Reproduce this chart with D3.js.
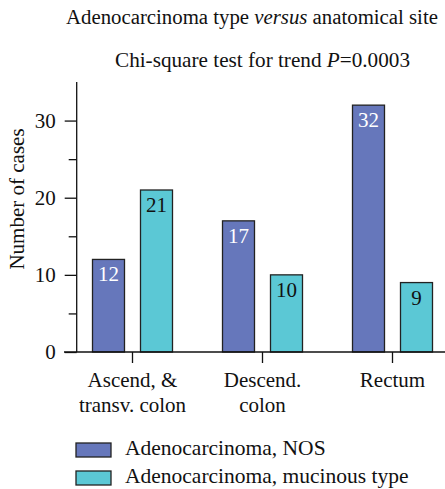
<!DOCTYPE html>
<html><head><meta charset="utf-8">
<script src="https://cdn.jsdelivr.net/npm/d3@7/dist/d3.min.js"></script>
<style>
html,body{margin:0;padding:0;background:#fff;}
svg{display:block;}
text{font-family:"Liberation Serif","Times New Roman",serif;fill:#111;}
</style></head>
<body>
<svg id="chart" width="445" height="489"></svg>
<script>
const categories = [["Ascend, &", "transv. colon"], ["Descend.", "colon"], ["Rectum"]];
const categoryKeys = ["Ascend, & transv. colon", "Descend. colon", "Rectum"];
const seriesNames = ["Adenocarcinoma, NOS", "Adenocarcinoma, mucinous type"];
const nosValues = [12, 17, 32];
const mucinousValues = [21, 10, 9];
const yTicks = [0, 10, 20, 30];
const yMinorTicks = [5, 15, 25];
const colors = ["#6677bb", "#5bc8d5"];
const labelColors = ["#ffffff", "#111111"];

const svg = d3.select("#chart");
const y = d3.scaleLinear().domain([0, 35]).range([352, 82]);
const x0 = d3.scaleBand().domain(categoryKeys).range([67.5, 457.5]).padding(0);
const x1 = d3.scaleBand().domain(seriesNames).range([25, 105]).paddingInner(1/3).paddingOuter(0);

// Titles
const t1 = svg.append("text").attr("x", 66).attr("y", 24).attr("font-size", 20.8);
t1.append("tspan").text("Adenocarcinoma type ");
t1.append("tspan").attr("font-style", "italic").text("versus");
t1.append("tspan").text(" anatomical site");

const t2 = svg.append("text").attr("x", 262.5).attr("y", 67).attr("font-size", 21.2).attr("text-anchor", "middle");
t2.append("tspan").text("Chi-square test for trend ");
t2.append("tspan").attr("font-style", "italic").text("P");
t2.append("tspan").text("=0.0003");

// Bars
const data = categoryKeys.map((c, i) => ({cat: c, vals: [nosValues[i], mucinousValues[i]]}));
const groups = svg.append("g").selectAll("g").data(data).join("g")
  .attr("transform", d => `translate(${x0(d.cat)},0)`);
groups.selectAll("rect").data(d => d.vals.map((v, j) => ({v, s: seriesNames[j], j})))
  .join("rect")
  .attr("x", d => x1(d.s)).attr("width", x1.bandwidth())
  .attr("y", d => y(d.v)).attr("height", d => y(0) - y(d.v))
  .attr("fill", d => colors[d.j]).attr("stroke", "#222").attr("stroke-width", 1.3);
groups.selectAll("text").data(d => d.vals.map((v, j) => ({v, s: seriesNames[j], j})))
  .join("text")
  .attr("x", d => x1(d.s) + x1.bandwidth() / 2).attr("y", d => y(d.v) + 22)
  .attr("text-anchor", "middle").attr("font-size", 21)
  .style("fill", d => labelColors[d.j]).text(d => d.v);

// Y axis
const yAxis = svg.append("g").attr("transform", "translate(76.7,0)")
  .call(d3.axisLeft(y).tickValues(yTicks).tickSize(12).tickPadding(9).tickFormat(d3.format("d")));
yAxis.select(".domain").attr("d", `M0,${y(35)}V${y(0)}`);
svg.append("g").attr("transform", "translate(76.7,0)")
  .call(d3.axisLeft(y).tickValues(yMinorTicks).tickSize(8).tickFormat(""))
  .select(".domain").remove();
svg.selectAll(".tick text").attr("font-size", 21).attr("font-family", "Liberation Serif").style("fill", "#111");
svg.selectAll(".domain, .tick line").attr("stroke", "#111").attr("stroke-width", 1.3);

// X axis
const xAxisG = svg.append("g").attr("transform", `translate(0,${y(0)})`);
xAxisG.append("line").attr("x1", 64).attr("x2", 445).attr("stroke", "#111").attr("stroke-width", 1.3);
xAxisG.selectAll("line.xt").data(categoryKeys).join("line").attr("class", "xt")
  .attr("x1", d => x0(d) + x0.bandwidth() / 2).attr("x2", d => x0(d) + x0.bandwidth() / 2)
  .attr("y1", 0).attr("y2", 11).attr("stroke", "#111").attr("stroke-width", 1.3);
xAxisG.selectAll("text.xl").data(categoryKeys).join("text").attr("class", "xl")
  .attr("text-anchor", "middle").attr("font-size", 21)
  .each(function(d, i) {
    const t = d3.select(this);
    categories[i].forEach((line, k) => {
      t.append("tspan").attr("x", x0(d) + x0.bandwidth() / 2).attr("y", 35 + k * 25).text(line);
    });
  });

// Y title
svg.append("text").attr("transform", "translate(24,199) rotate(-90)")
  .attr("text-anchor", "middle").attr("font-size", 21).text("Number of cases");

// Legend
const legend = svg.append("g").selectAll("g").data(seriesNames).join("g")
  .attr("transform", (d, i) => `translate(0,${i * 28})`);
legend.append("rect").attr("x", 76).attr("y", 443).attr("width", 35).attr("height", 14)
  .attr("fill", (d, i) => colors[i]).attr("stroke", "#222").attr("stroke-width", 1.3);
legend.append("text").attr("x", 125).attr("y", 455).attr("font-size", 21.5).text(d => d);
</script>
</body></html>
